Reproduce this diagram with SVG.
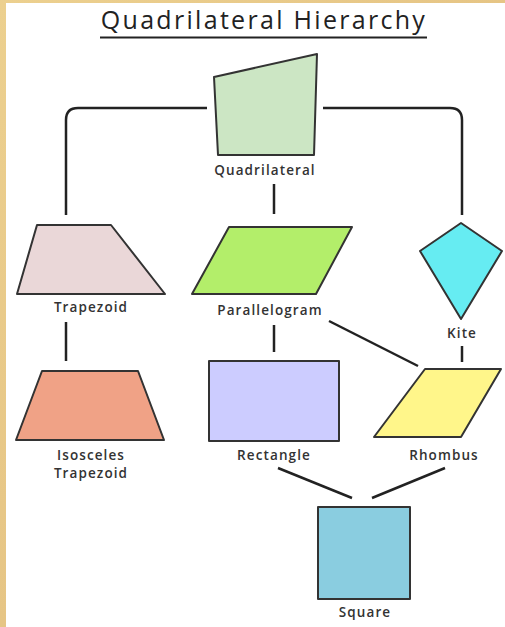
<svg xmlns="http://www.w3.org/2000/svg" width="505" height="627" viewBox="0 0 505 627">
<defs>
<linearGradient id="parch" x1="0" y1="0" x2="1" y2="1">
<stop offset="0" stop-color="#ecd08f"/>
<stop offset="0.5" stop-color="#e6c585"/>
<stop offset="1" stop-color="#edd496"/>
</linearGradient>
</defs>
<style>
.shape{stroke:#333;stroke-width:2;stroke-linejoin:round}
.lbl{font-family:"Open Sans","DejaVu Sans",sans-serif;font-weight:600;font-size:13.5px;fill:#333;text-anchor:middle;letter-spacing:1.1px}
.con{fill:none;stroke:#222;stroke-width:2.5}
</style>
<rect x="0" y="0" width="505" height="627" fill="url(#parch)"/>
<rect x="6" y="3" width="499" height="624" fill="#ffffff"/>
<g id="title">
<text x="264" y="29" font-family="'Open Sans','DejaVu Sans',sans-serif" font-size="25" fill="#222" text-anchor="middle" letter-spacing="2.3">Quadrilateral Hierarchy</text>
<line x1="100" y1="37.5" x2="427" y2="37.5" stroke="#222" stroke-width="2"/>
</g>
<g id="connectors">
<path class="con" d="M207 108 H78 Q66 108 66 120 V215"/>
<path class="con" d="M323 108 H450 Q462 108 462 120 V215"/>
<line class="con" x1="274" y1="184" x2="274" y2="214"/>
<line class="con" x1="66" y1="322" x2="66" y2="361"/>
<line class="con" x1="274" y1="325" x2="274" y2="352"/>
<line class="con" x1="329" y1="321" x2="418" y2="366"/>
<line class="con" x1="462" y1="346" x2="462" y2="362"/>
<line class="con" x1="278" y1="468" x2="352" y2="498"/>
<line class="con" x1="445" y1="468" x2="372" y2="498"/>
</g>
<g id="quadrilateral">
<polygon class="shape" points="214,77 317,54 314,155 218,155" fill="#cce6c4"/>
<text class="lbl" x="265" y="175">Quadrilateral</text>
</g>
<g id="trapezoid">
<polygon class="shape" points="37,225 111,225 165,294 17,294" fill="#ead7d8"/>
<text class="lbl" x="91" y="312">Trapezoid</text>
</g>
<g id="parallelogram">
<polygon class="shape" points="229,227 352,227 316,294 192,294" fill="#b3ee6a"/>
<text class="lbl" x="270" y="315">Parallelogram</text>
</g>
<g id="kite">
<polygon class="shape" points="461,223 502,251 461,319 420,251" fill="#66ecf2"/>
<text class="lbl" x="462" y="338">Kite</text>
</g>
<g id="isosceles-trapezoid">
<polygon class="shape" points="42,371 138,371 164,440 16,440" fill="#f0a286"/>
<text class="lbl" x="91" y="460">Isosceles</text>
<text class="lbl" x="91" y="478">Trapezoid</text>
</g>
<g id="rectangle">
<rect class="shape" x="209" y="361" width="130" height="80" fill="#ccccff"/>
<text class="lbl" x="274" y="460">Rectangle</text>
</g>
<g id="rhombus">
<polygon class="shape" points="425,369 501,369 461,437 374,437" fill="#fff68a"/>
<text class="lbl" x="444" y="460">Rhombus</text>
</g>
<g id="square">
<rect class="shape" x="318" y="507" width="92" height="92" fill="#8acde0"/>
<text class="lbl" x="365" y="617">Square</text>
</g>
</svg>
